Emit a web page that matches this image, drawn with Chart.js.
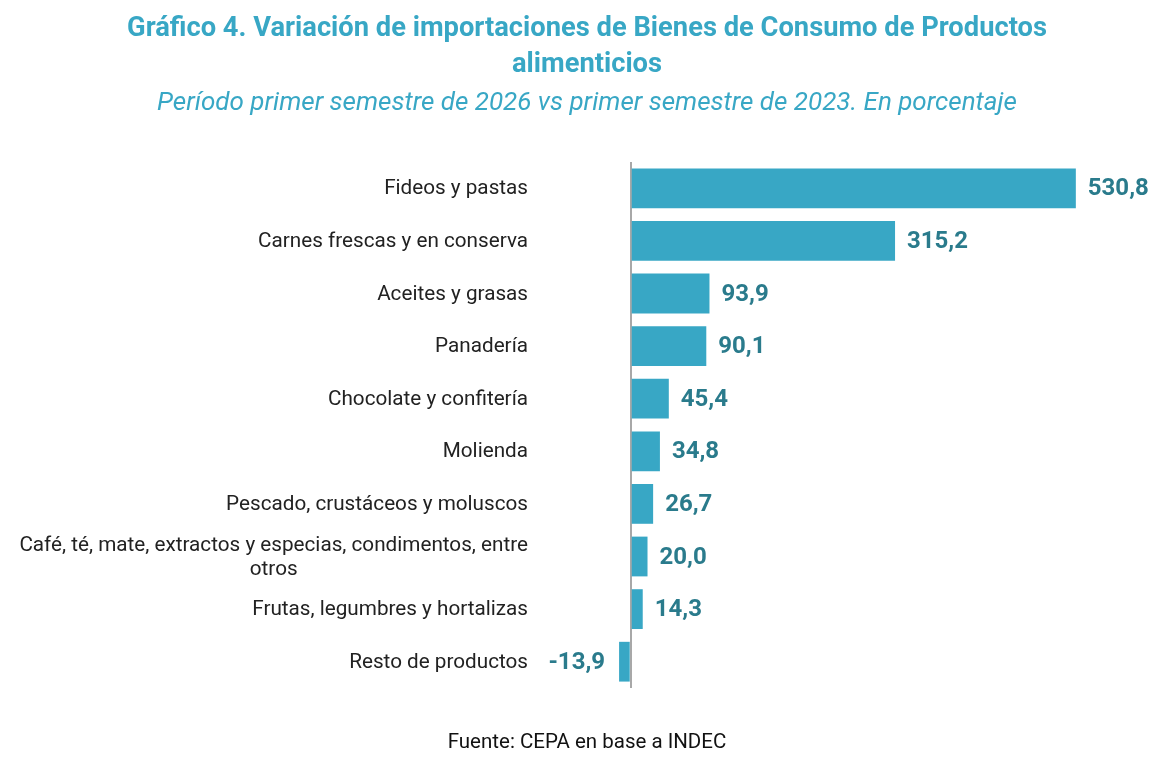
<!DOCTYPE html>
<html>
<head>
<meta charset="utf-8">
<script src="https://cdn.jsdelivr.net/npm/chart.js@4.4.1/dist/chart.umd.min.js"></script>
<style>
  html, body { margin: 0; padding: 0; background: #fff; }
  #wrap { width: 1174px; height: 770px; }
</style>
</head>
<body>
<div id="wrap"><canvas id="barCanvas"></canvas></div>
<script>
const categorias = [
  "Fideos y pastas",
  "Carnes frescas y en conserva",
  "Aceites y grasas",
  "Panadería",
  "Chocolate y confitería",
  "Molienda",
  "Pescado, crustáceos y moluscos",
  ["Café, té, mate, extractos y especias, condimentos, entre", "otros"],
  "Frutas, legumbres y hortalizas",
  "Resto de productos",
];
const variacion = [530.8, 315.2, 93.9, 90.1, 45.4, 34.8, 26.7, 20.0, 14.3, -13.9];

const titulo = [
  "Gráfico 4. Variación de importaciones de Bienes de Consumo de Productos",
  "alimenticios",
];
const subtitulo = "Período primer semestre de 2026 vs primer semestre de 2023. En porcentaje";
const fuente = "Fuente: CEPA en base a INDEC";

const azul = "#38a7c5";
const tituloColor = "#38a7c5";
const etiquetaColor = "#2a7b8c";

// titulo, subtitulo y fuente centrados en todo el ancho
const textosPlugin = {
  id: "textos",
  afterDraw(chart) {
    const ctx = chart.ctx;
    const cx = chart.width / 2;
    ctx.save();
    ctx.textAlign = "center";
    ctx.textBaseline = "middle";
    ctx.fillStyle = tituloColor;
    ctx.font = "bold 27.3px Roboto";
    ctx.fillText(titulo[0], cx, 29);
    ctx.fillText(titulo[1], cx, 65);
    ctx.font = "italic 26px Roboto";
    ctx.fillText(subtitulo, cx, 103);
    ctx.font = "20.5px Roboto";
    ctx.fillStyle = "#111";
    ctx.fillText(fuente, cx, 743);
    ctx.restore();
  }
};

// nombres de categorias a la izquierda, centrados por linea
const labelsPlugin = {
  id: "labelsIzq",
  afterDraw(chart) {
    const ctx = chart.ctx;
    const y = chart.scales.y;
    const right = 528;
    ctx.save();
    ctx.font = "20.7px Roboto";
    ctx.fillStyle = "#222";
    ctx.textBaseline = "middle";
    ctx.textAlign = "center";
    categorias.forEach((lab, i) => {
      const py = y.getPixelForTick(i) + 1;
      const lines = Array.isArray(lab) ? lab : [lab];
      const maxW = Math.max(...lines.map(l => ctx.measureText(l).width));
      const cx = right - maxW / 2;
      const lh = 24;
      lines.forEach((l, j) => {
        ctx.fillText(l, cx, py + (j - (lines.length - 1) / 2) * lh);
      });
    });
    ctx.restore();
  }
};

// valores al final de cada barra
const valoresPlugin = {
  id: "valores",
  afterDatasetsDraw(chart) {
    const ctx = chart.ctx;
    const meta = chart.getDatasetMeta(0);
    ctx.save();
    ctx.font = "bold 24px Roboto";
    ctx.fillStyle = etiquetaColor;
    ctx.textBaseline = "middle";
    meta.data.forEach((bar, i) => {
      const v = variacion[i];
      const txt = v.toFixed(1).replace(".", ",");
      if (v >= 0) {
        ctx.textAlign = "left";
        ctx.fillText(txt, bar.x + 12, bar.y + 1);
      } else {
        ctx.textAlign = "right";
        ctx.fillText(txt, bar.x - 14, bar.y + 1);
      }
    });
    ctx.restore();
  }
};

const barCanvas = document.getElementById("barCanvas");

const barChart = new Chart(barCanvas, {
  type: "bar",
  data: {
    labels: categorias,
    datasets: [
      {
        label: "Variación",
        data: variacion,
        backgroundColor: azul,
        borderWidth: 0,
        barPercentage: 0.84,
        categoryPercentage: 0.9,
      },
    ],
  },
  options: {
    indexAxis: "y",
    responsive: true,
    maintainAspectRatio: false,
    animation: false,
    layout: {
      padding: { left: 0, right: 98, top: 162, bottom: 82 },
    },
    plugins: {
      legend: { display: false },
      tooltip: { enabled: false },
      title: { display: false },
    },
    scales: {
      x: {
        min: -14,
        max: 531,
        display: true,
        border: { display: false },
        ticks: { display: false },
        afterBuildTicks(scale) {
          scale.ticks = [{ value: 0 }];
        },
        afterFit(scale) {
          scale.height = 0;
        },
        grid: {
          color: "#a8a8a8",
          lineWidth: 2,
          drawTicks: false,
        },
      },
      y: {
        display: true,
        border: { display: false },
        grid: { display: false },
        ticks: { display: false },
        afterFit(scale) {
          scale.width = 619;
        },
      },
    },
  },
  plugins: [textosPlugin, labelsPlugin, valoresPlugin],
});
</script>
</body>
</html>
